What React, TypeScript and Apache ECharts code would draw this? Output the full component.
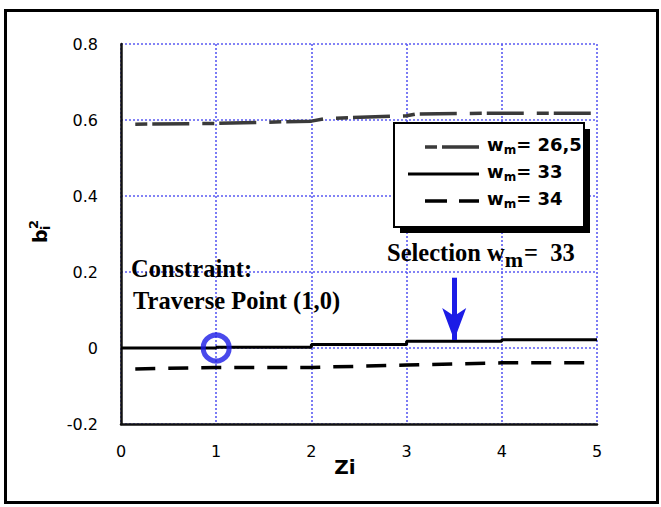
import React, { useEffect, useRef } from 'react';
import * as echarts from 'echarts';

// ---- data ----
const zi26 = [0.15, 1, 2, 2.15, 3, 3.1, 4, 5];
const b26 = [0.589, 0.591, 0.597, 0.604, 0.611, 0.616, 0.618, 0.618];

const zi33 = [0, 1, 2, 3, 4, 5];
const b33 = [0, 0.002, 0.009, 0.018, 0.022, 0.022];

const zi34 = [0.15, 1, 2, 3, 4, 5];
const b34 = [-0.055, -0.051, -0.051, -0.045, -0.039, -0.039];

const constraintPoint = [1, 0];
const selectionArrowFrom = [3.5, 0.185];
const selectionArrowTo = [3.5, 0.021];

const legendLabels = ['= 26,5', '= 33', '= 34'];

const xMin = 0, xMax = 5, xStep = 1;
const yMin = -0.2, yMax = 0.8, yStep = 0.2;

const pairs = (xs: number[], ys: number[]) => xs.map((x, i) => [x, ys[i]]);

const BLUE = '#1c1ce6';
const GRID = '#5b5bf2';
const DASH26 = [12, 5, 37, 13];
const DASH34 = [20, 13];

export default function App() {
  const ref = useRef<HTMLDivElement>(null);
  useEffect(() => {
    document.body.style.margin = '0';
    if (!ref.current) return;
    const chart = echarts.init(ref.current, null, { renderer: 'svg' });
    const sans = 'DejaVu Sans';
    const serif = 'Liberation Serif';

    const legendRow = (y: number, label: string) => ({
      type: 'text',
      left: 487,
      top: y - 12,
      style: {
        text: `{w|w}{m|m}{v|${label}}`,
        rich: {
          w: { fontFamily: sans, fontWeight: 'bold', fontSize: 18, fill: '#000' },
          m: { fontFamily: sans, fontWeight: 'bold', fontSize: 12, fill: '#000', padding: [11, 0, 0, 0] },
          v: { fontFamily: sans, fontWeight: 'bold', fontSize: 18, fill: '#000' },
        },
      },
    });

    chart.setOption({
      animation: false,
      backgroundColor: '#fff',
      grid: { left: 121, right: 64, top: 44, bottom: 83 },
      xAxis: {
        type: 'value',
        min: xMin,
        max: xMax,
        interval: xStep,
        axisLine: { show: true, onZero: false, lineStyle: { color: '#111', width: 2.5 } },
        axisTick: { show: false },
        axisLabel: { fontFamily: sans, fontSize: 16, color: '#000', margin: 19 },
        splitLine: { show: true, lineStyle: { color: GRID, type: [2, 2], width: 1.6 } },
      },
      yAxis: {
        type: 'value',
        min: yMin,
        max: yMax,
        interval: yStep,
        axisLine: { show: true, onZero: false, lineStyle: { color: '#111', width: 2.5 } },
        axisTick: { show: false },
        axisLabel: {
          fontFamily: sans,
          fontSize: 16,
          color: '#000',
          margin: 23,
          padding: [0, 0, 8, 0],
          formatter: (v: number) => String(Number(v.toFixed(1))),
        },
        splitLine: { show: true, lineStyle: { color: GRID, type: [2, 2], width: 1.6 } },
      },
      series: [
        {
          type: 'line',
          data: pairs(zi26, b26),
          symbol: 'none',
          lineStyle: { color: '#3a3a3a', width: 3.5, type: DASH26, cap: 'butt' },
          z: 3,
        },
        {
          type: 'line',
          data: pairs(zi33, b33),
          step: 'end',
          symbol: 'none',
          lineStyle: { color: '#000', width: 3 },
          z: 3,
          markLine: {
            silent: true,
            symbol: ['none', 'arrow'],
            symbolSize: [18, 32],
            label: { show: false },
            lineStyle: { color: BLUE, width: 5, type: 'solid' },
            data: [[{ coord: selectionArrowFrom }, { coord: selectionArrowTo }]],
          },
        },
        {
          type: 'line',
          data: pairs(zi34, b34),
          symbol: 'none',
          lineStyle: { color: '#000', width: 3.5, type: DASH34, cap: 'butt' },
          z: 3,
        },
        {
          type: 'scatter',
          data: [constraintPoint],
          symbol: 'circle',
          symbolSize: 26,
          itemStyle: { color: 'rgba(0,0,0,0)', borderColor: BLUE, borderWidth: 5 },
          z: 5,
        },
      ],
      graphic: [
        {
          type: 'rect',
          shape: { x: 5.5, y: 10.5, width: 652, height: 492 },
          style: { fill: 'none', stroke: '#000', lineWidth: 3 },
        },
        // legend box
        {
          type: 'rect',
          shape: { x: 400, y: 129, width: 190, height: 104 },
          style: { fill: '#000' },
          z: 10,
        },
        {
          type: 'rect',
          shape: { x: 394, y: 123, width: 190, height: 104 },
          style: { fill: '#fff', stroke: '#000', lineWidth: 2 },
          z: 11,
        },
        {
          type: 'line',
          shape: { x1: 425, y1: 147, x2: 479, y2: 147 },
          style: { stroke: '#3a3a3a', lineWidth: 3.5, lineDash: DASH26 },
          z: 12,
        },
        {
          type: 'line',
          shape: { x1: 408, y1: 174, x2: 479, y2: 174 },
          style: { stroke: '#000', lineWidth: 3 },
          z: 12,
        },
        {
          type: 'line',
          shape: { x1: 425, y1: 201, x2: 479, y2: 201 },
          style: { stroke: '#000', lineWidth: 3.5, lineDash: [22, 12] },
          z: 12,
        },
        { ...legendRow(147, legendLabels[0]), z: 12 },
        { ...legendRow(174, legendLabels[1]), z: 12 },
        { ...legendRow(201, legendLabels[2]), z: 12 },
        // annotations
        {
          type: 'text',
          left: 131,
          top: 256,
          style: { text: 'Constraint:', fontFamily: serif, fontWeight: 'bold', fontSize: 24.5, fill: '#000' },
          z: 12,
        },
        {
          type: 'text',
          left: 133,
          top: 288,
          style: { text: 'Traverse Point (1,0)', fontFamily: serif, fontWeight: 'bold', fontSize: 24.5, fill: '#000' },
          z: 12,
        },
        {
          type: 'text',
          left: 387,
          top: 240,
          style: {
            text: '{s|Selection w}{m|m}{v|=  33}',
            rich: {
              s: { fontFamily: serif, fontWeight: 'bold', fontSize: 24.5, fill: '#000' },
              m: { fontFamily: serif, fontWeight: 'bold', fontSize: 22, fill: '#000', padding: [14, 1, 0, 0] },
              v: { fontFamily: serif, fontWeight: 'bold', fontSize: 24.5, fill: '#000' },
            },
          },
          z: 12,
        },
        // axis names
        {
          type: 'text',
          x: 345,
          y: 467,
          style: {
            text: 'Zi',
            fontFamily: sans,
            fontWeight: 'bold',
            fontSize: 20,
            fill: '#000',
            align: 'center',
            verticalAlign: 'middle',
          },
        },
        {
          type: 'group',
          x: 40,
          y: 243,
          rotation: Math.PI / 2,
          children: [
            {
              type: 'text',
              x: 0,
              y: 0,
              style: { text: 'b', fontFamily: sans, fontWeight: 'bold', fontSize: 19, fill: '#000', verticalAlign: 'middle' },
            },
            {
              type: 'text',
              x: 13,
              y: 5,
              style: { text: 'i', fontFamily: sans, fontWeight: 'bold', fontSize: 13, fill: '#000', verticalAlign: 'middle' },
            },
            {
              type: 'text',
              x: 14,
              y: -7,
              style: { text: '2', fontFamily: sans, fontWeight: 'bold', fontSize: 13, fill: '#000', verticalAlign: 'middle' },
            },
          ],
        },
      ],
    });
    return () => chart.dispose();
  }, []);
  return <div ref={ref} style={{ width: 661, height: 507 }} />;
}
